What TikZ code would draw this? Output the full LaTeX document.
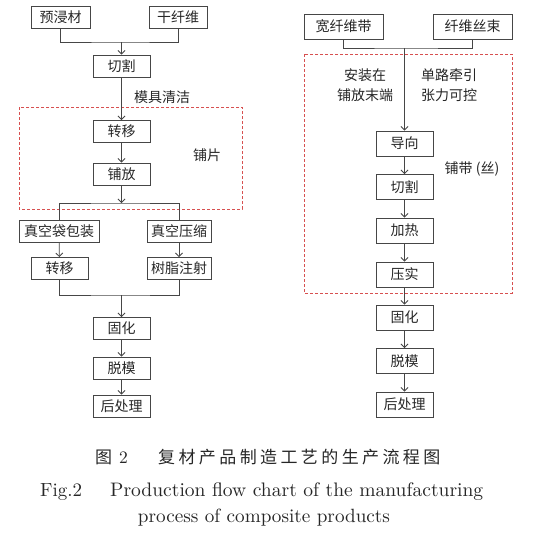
\documentclass[tikz,border=0pt]{standalone}
\usepackage{fontspec}
\newfontfamily\cjk{Noto Sans CJK SC}
\newfontfamily\cjkwide[LetterSpace=20]{Noto Sans CJK SC}
\usepackage{tikz}
\usetikzlibrary{positioning, arrows.meta}
\definecolor{linegray}{RGB}{70,70,70}
\definecolor{dashred}{RGB}{215,80,80}

\begin{document}
\begin{tikzpicture}[x=1pt,y=-1pt,
  box/.style={draw=linegray, line width=0.9pt, minimum height=22pt, inner sep=0pt, text=black!85, font=\cjk\fontsize{14}{16}\selectfont},
  lbl/.style={inner sep=0pt, align=center, text=black!85, font=\cjk\fontsize{14}{20}\selectfont},
  link/.style={draw=linegray, line width=0.8pt},
  arr/.style={link, -{Straight Barb[length=3.5pt,width=7pt]}},
  region/.style={draw=dashred, line width=0.8pt, dash pattern=on 3pt off 2pt},
  caption/.style={inner sep=0pt, text=black!85, font=\fontsize{10}{12}\selectfont}]
\useasboundingbox (0,0) rectangle (555,539);
% left line
\node[box, minimum width=59pt] (yjc) at (60.5,17.5) {预浸材};
\node[box, minimum width=58pt] (gxw) at (178,17.5) {干纤维};
\coordinate (j1) at (121.5,42);
\node[box, minimum width=57pt] (qg1) at (121.5,66) {切割};
\node[lbl] (mjqj) at (162,97) {模具清洁};
\node[box, minimum width=57pt] (zy1) at (121.5,131.5) {转移};
\node[box, minimum width=57pt] (pf) at (121.5,174) {铺放};
\node[lbl] (pp) at (207,155) {铺片};
\coordinate (j2) at (121.5,203);
\node[box, minimum width=80pt] (zkd) at (59,231) {真空袋包装};
\node[box, minimum width=64pt] (zky) at (179,231) {真空压缩};
\node[box, minimum width=57pt] (zy2) at (59.5,268.5) {转移};
\node[box, minimum width=64pt] (szz) at (179,268.5) {树脂注射};
\coordinate (j3) at (121.5,295);
\node[box, minimum width=57pt] (gh1) at (121.5,328.5) {固化};
\node[box, minimum width=57pt] (tm1) at (121.5,368) {脱模};
\node[box, minimum width=57pt] (hcl1) at (121.5,406) {后处理};
\draw[region] (19,107) rectangle (242,209);
\draw[link] (yjc.south) |- (j1) -| (gxw.south);
\draw[arr] (j1) -- (qg1);
\draw[arr] (qg1) -- (zy1);
\draw[arr] (zy1) -- (pf);
\draw[arr] (pf) -- (j2);
\draw[link] (zkd.north) |- (j2) -| (zky.north);
\draw[arr] (zkd) -- (zy2);
\draw[arr] (zky) -- (szz);
\draw[link] (zy2.south) |- (j3) -| (szz.south);
\draw[arr] (j3) -- (gh1);
\draw[arr] (gh1) -- (tm1);
\draw[arr] (tm1) -- (hcl1);
% right line
\node[box, minimum width=79pt, minimum height=25pt] (kxwd) at (343.5,26.5) {宽纤维带};
\node[box, minimum width=79pt, minimum height=25pt] (xwss) at (472.5,26.5) {纤维丝束};
\coordinate (j4) at (404.5,48);
\node[lbl] (azzd) at (365,85) {安装在\\铺放末端};
\node[lbl] (dlqy) at (449,85) {单路牵引\\张力可控};
\node[box, minimum width=57pt, minimum height=25pt] (dx) at (404.5,143.5) {导向};
\node[lbl] (pd) at (472,169) {铺带 (丝)};
\node[box, minimum width=57pt, minimum height=25pt] (qg2) at (404.5,187) {切割};
\node[box, minimum width=57pt, minimum height=25pt] (jr) at (404.5,230.5) {加热};
\node[box, minimum width=57pt, minimum height=25pt] (ys) at (404.5,274.5) {压实};
\node[box, minimum width=57pt, minimum height=25pt] (gh2) at (404.5,317.5) {固化};
\node[box, minimum width=57pt, minimum height=25pt] (tm2) at (404.5,361) {脱模};
\node[box, minimum width=57pt, minimum height=25pt] (hcl2) at (404.5,404.5) {后处理};
\draw[region] (304,54) rectangle (512,293);
\draw[link] (kxwd.south) |- (j4) -| (xwss.south);
\draw[arr] (j4) -- (dx);
\draw[arr] (dx) -- (qg2);
\draw[arr] (qg2) -- (jr);
\draw[arr] (jr) -- (ys);
\draw[arr] (ys) -- (gh2);
\draw[arr] (gh2) -- (tm2);
\draw[arr] (tm2) -- (hcl2);
% caption
\node[caption, anchor=west] (fignum) at (95,457) {{\cjk\fontsize{17}{20}\selectfont 图}\hspace{7pt}\scalebox{1.75}{2}};
\node[caption, anchor=west, font=\cjkwide\fontsize{17}{22}\selectfont] (figcn) at (158,457) {复材产品制造工艺的生产流程图};
\node[caption, anchor=west] (fignumen) at (40,492) {\resizebox{42pt}{!}{Fig.2}};
\node[caption, anchor=west] (figen) at (110,492) {\resizebox{373pt}{!}{Production flow chart of the manufacturing}};
\node[caption] (figen2) at (264,518) {\resizebox{252pt}{!}{process of composite products}};
\end{tikzpicture}
\end{document}
